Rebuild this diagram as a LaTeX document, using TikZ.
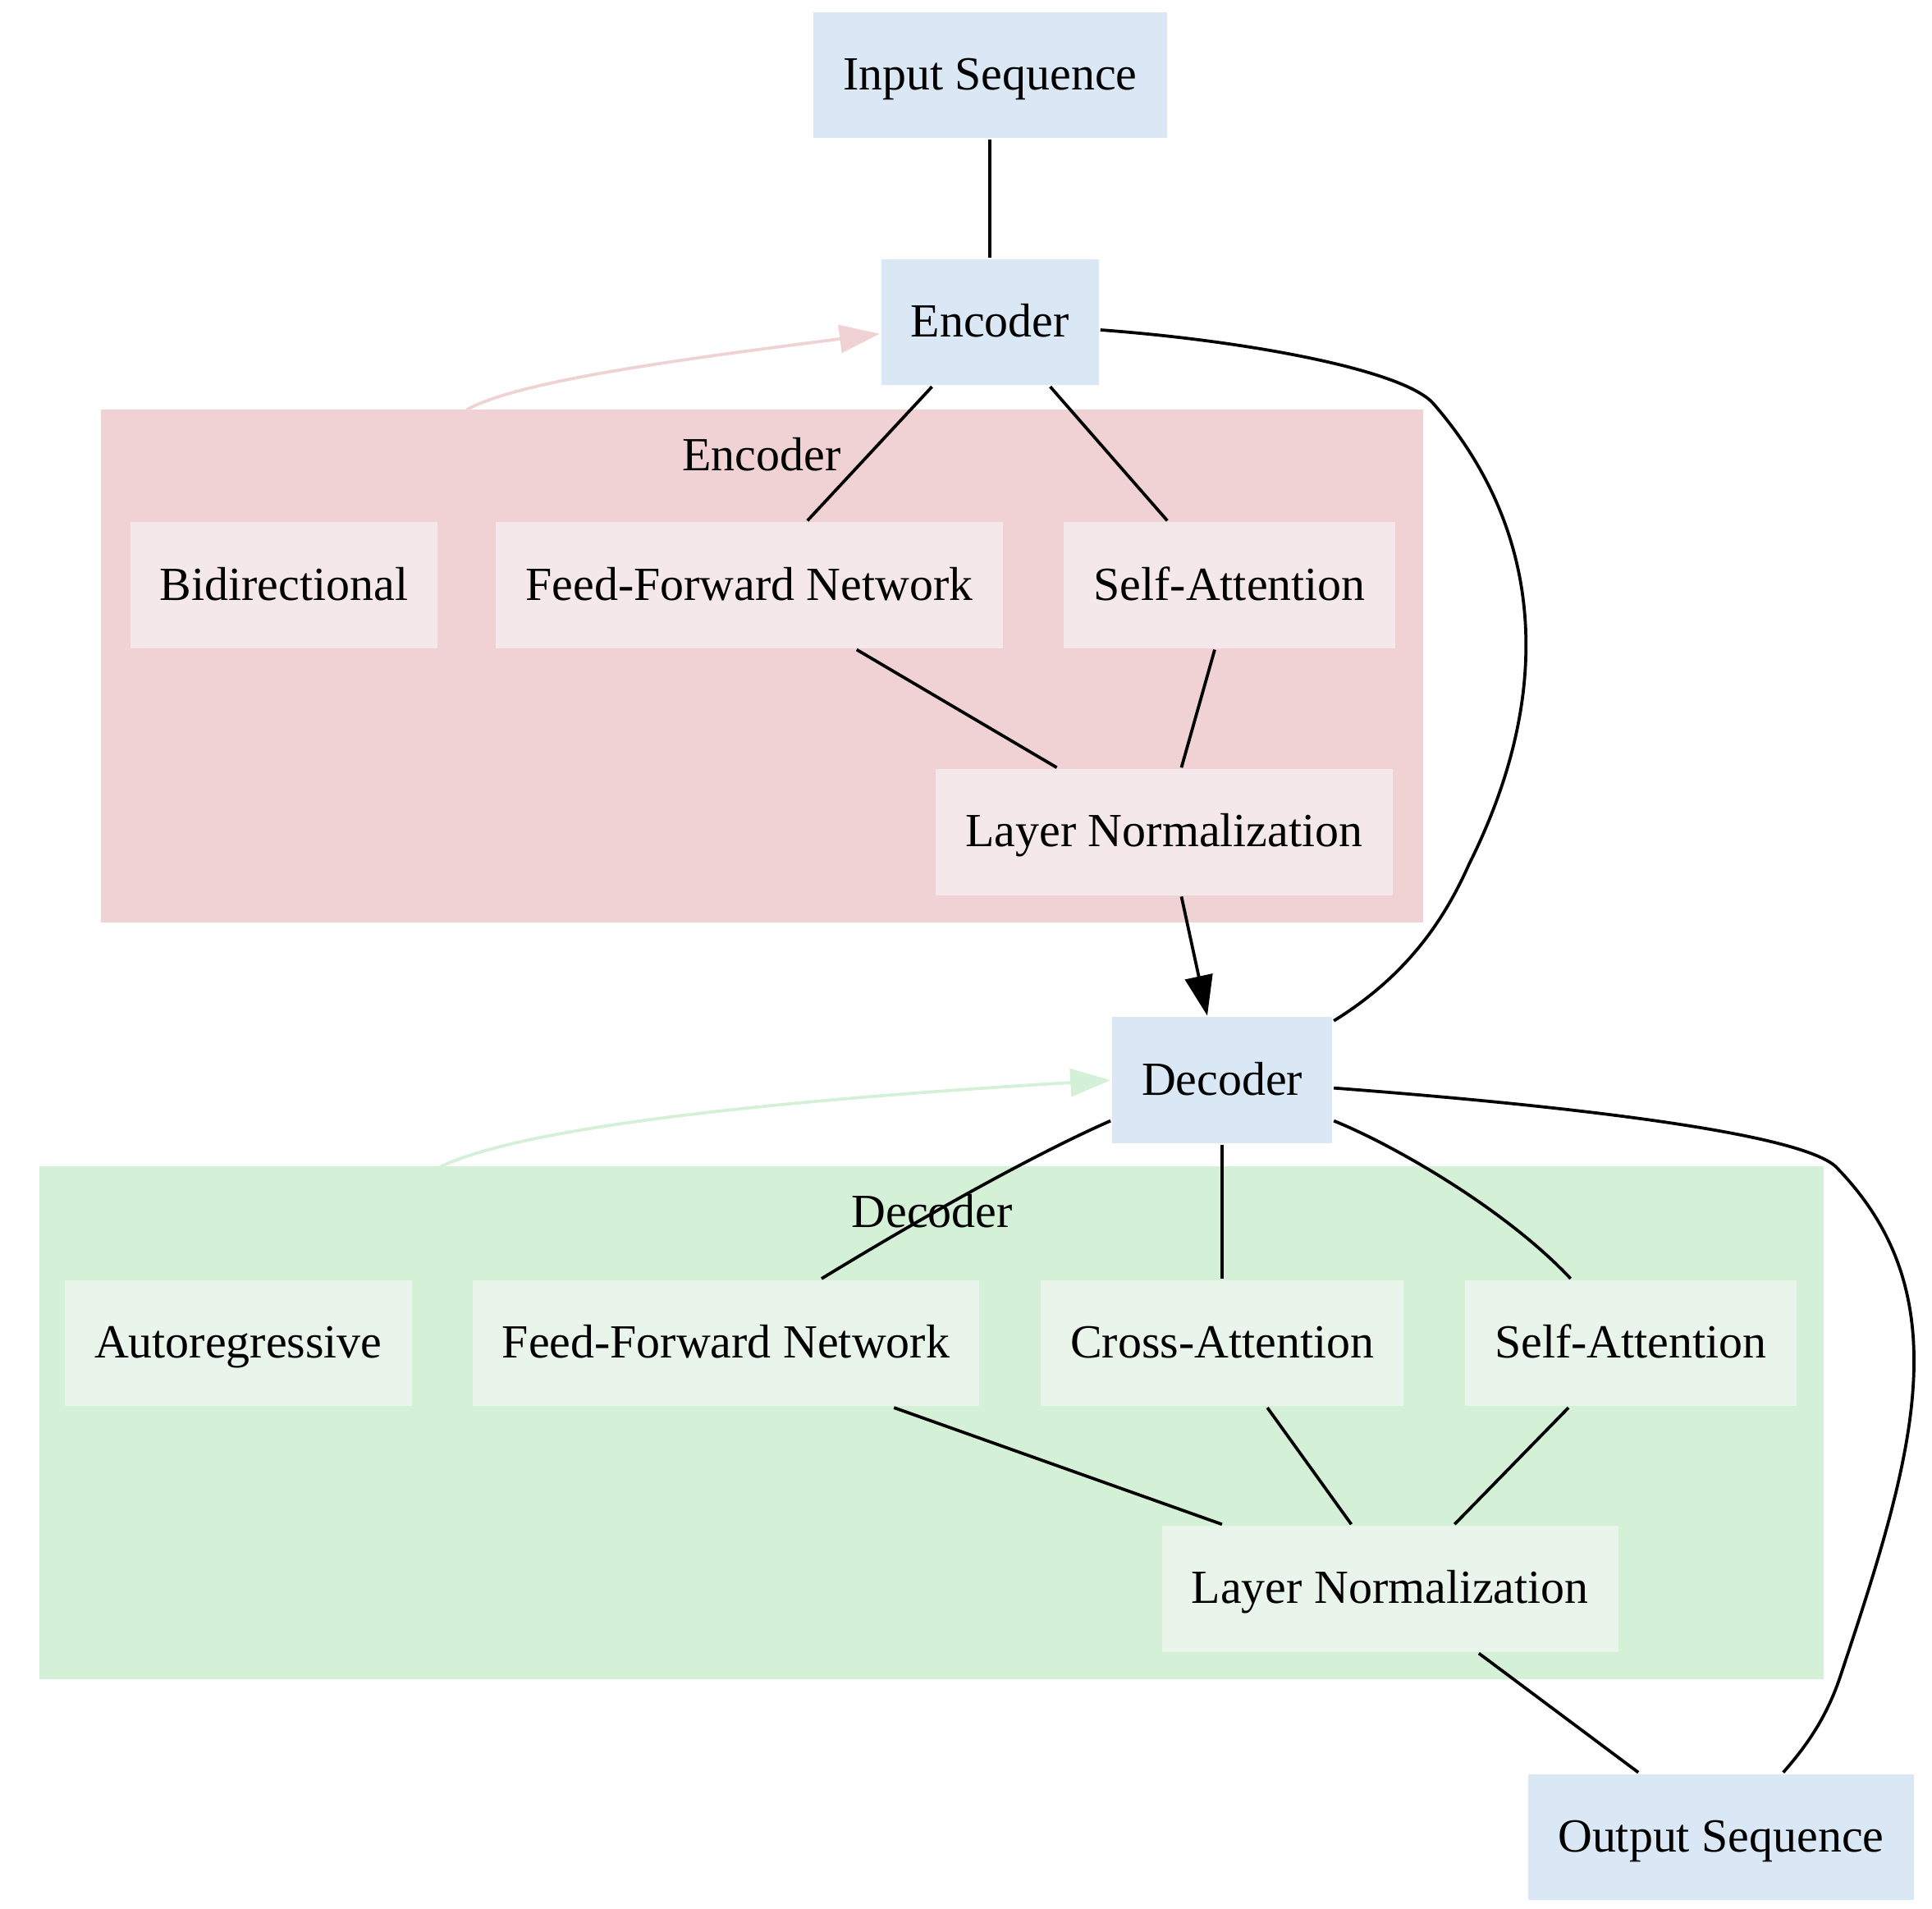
\documentclass[tikz,border=0pt]{standalone}
\usepackage{fontspec}
\setmainfont{Liberation Serif}
\usetikzlibrary{arrows.meta}
\definecolor{bluefill}{RGB}{218,232,245}
\definecolor{encclust}{RGB}{240,210,212}
\definecolor{encfill}{RGB}{245,232,235}
\definecolor{decclust}{RGB}{212,240,214}
\definecolor{decfill}{RGB}{233,245,235}
\begin{document}
\begin{tikzpicture}[x=0.4pt,y=-0.4pt,line width=1pt,
  >={Triangle[length=13pt,width=9pt]},
  box/.style={rectangle,minimum height=40.8pt,inner xsep=9.6pt,text height=12.6pt,text depth=3pt,font=\fontsize{15.4}{18}\selectfont},
  mainbox/.style={box,fill=bluefill},
  encbox/.style={box,fill=encfill},
  decbox/.style={box,fill=decfill},
  clustlabel/.style={font=\fontsize{15.4}{18}\selectfont}]
\useasboundingbox (0,0) rectangle (1565,1546);
\fill[encclust] (82,332) rectangle (1153,747);
\fill[decclust] (32,945) rectangle (1477,1360);
\node[clustlabel] (enclabel) at (617,368) {Encoder};
\node[clustlabel] (declabel) at (755,981) {Decoder};
\coordinate (bidtop) at (378,332);
\coordinate (autotop) at (357,945);
\node[mainbox] (input) at (802,61) {Input Sequence};
\node[mainbox] (encoder) at (802,261) {Encoder};
\node[encbox] (bidir) at (230,474) {Bidirectional};
\node[encbox] (encffn) at (607,474) {Feed-Forward Network};
\node[encbox] (encsa) at (996,474) {Self-Attention};
\node[encbox] (encln) at (943,674) {Layer Normalization};
\node[mainbox] (decoder) at (990,875) {Decoder};
\node[decbox] (autoreg) at (193,1088) {Autoregressive};
\node[decbox] (decffn) at (588,1088) {Feed-Forward Network};
\node[decbox] (decca) at (990,1088) {Cross-Attention};
\node[decbox] (decsa) at (1321,1088) {Self-Attention};
\node[decbox] (decln) at (1126,1287) {Layer Normalization};
\node[mainbox] (output) at (1394,1488) {Output Sequence};
\draw (input) -- (encoder);
\draw (encoder.228) -- (encffn.48);
\draw (encoder.313) -- (encsa.134);
\draw (encffn.329) -- (encln.149);
\draw (encsa.257) -- (encln.75);
\draw[->] (encln.285) -- (decoder.103);
\draw[->,encclust] (bidtop) .. controls (420,308) and (560,290) .. (encoder.186);
\draw (encoder.356) .. controls (1010,276) and (1140,300) .. (1162,328)
  .. controls (1250,430) and (1260,560) .. (1190,700)
  .. controls (1170,745) and (1140,790) .. (decoder.28);
\draw[->,decclust] (autotop) .. controls (420,915) and (600,893) .. (decoder.180);
\draw (decoder.200) .. controls (865,923) and (790,960) .. (decffn.34);
\draw (decoder) -- (decca);
\draw (decoder.340) .. controls (1130,928) and (1220,980) .. (decsa.133);
\draw (decffn.339) -- (decln.159);
\draw (decca.305) -- (decln.121);
\draw (decsa.226) -- (decln.45);
\draw (decln.324) -- (output.142);
\draw (decoder.356) .. controls (1300,898) and (1460,920) .. (1487,945)
  .. controls (1590,1050) and (1550,1180) .. (1490,1360)
  .. controls (1478,1395) and (1460,1418) .. (output.46);
\end{tikzpicture}
\end{document}
